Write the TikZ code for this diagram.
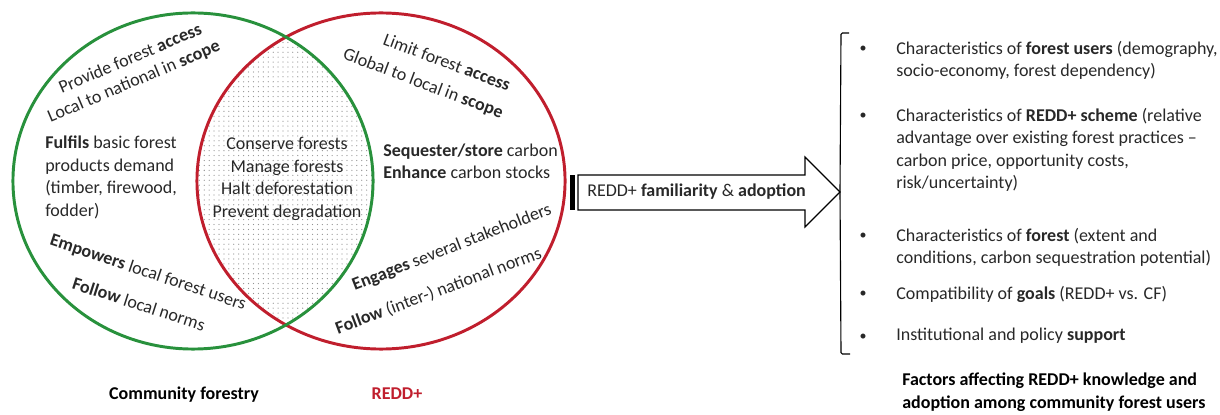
\documentclass[tikz,border=0pt]{standalone}
\usepackage{fontspec}
\setmainfont{Carlito}
\usetikzlibrary{patterns}

\definecolor{cfgreen}{RGB}{40,145,60}
\definecolor{reddred}{RGB}{192,30,45}
\definecolor{txtgray}{RGB}{40,40,40}

\pgfdeclarepatternformonly{lensdots}{\pgfpoint{-1pt}{-1pt}}{\pgfpoint{4.5pt}{4.5pt}}{\pgfpoint{3.5pt}{3.5pt}}{%
  \pgfpathcircle{\pgfpoint{1.75pt}{1.75pt}}{0.45pt}%
  \pgfusepath{fill}}

\tikzset{
  venntxt/.style={inner sep=0pt, text=txtgray},
  blocktxt/.style={inner sep=0pt, text=txtgray, anchor=north west, align=left},
  factor/.style={inner sep=0pt, text=txtgray, anchor=north west, align=left},
  dotitem/.style={inner sep=0pt, text=txtgray, anchor=base, font=\fontsize{10}{12}\selectfont},
  caption/.style={inner sep=0pt, font=\fontsize{12.8}{16}\selectfont\bfseries},
}

\begin{document}
\begin{tikzpicture}[x=0.025cm, y=0.025cm, font=\fontsize{12.8}{16}\selectfont]
	\useasboundingbox (0,0) rectangle (1220,414);

	% overlap of the two sets
	\begin{scope}
		\clip (193,233) ellipse [x radius=4.5cm, y radius=4.2cm];
		\fill[pattern=lensdots, pattern color=gray!85] (381,233) ellipse [x radius=4.6cm, y radius=4.2cm];
	\end{scope}
	\draw[reddred, line width=2.1pt] (381,233) ellipse [x radius=4.6cm, y radius=4.2cm];
	\draw[cfgreen, line width=2.1pt] (193,233) ellipse [x radius=4.5cm, y radius=4.2cm];

	% community forestry side
	\node (cfaccess) [venntxt, rotate=23] at (130,356) {Provide forest \textbf{access}};
	\node (cfscope) [venntxt, rotate=23] at (134,332) {Local to national in \textbf{scope}};
	\node (cfdemand) [blocktxt] at (45,278) {\textbf{Fulfils} basic forest\\products demand\\(timber, firewood,\\fodder)};
	\node (cfusers) [venntxt, rotate=-18.5] at (148,141) {\textbf{Empowers} local forest users};
	\node (cfnorms) [venntxt, rotate=-18] at (139,110) {\textbf{Follow} local norms};

	% shared goals
	\node (shared) [venntxt, align=center] at (287,235) {Conserve forests\\Manage forests\\Halt deforestation\\Prevent degradation};

	% REDD+ side
	\node (raccess) [venntxt, rotate=-20.7] at (447,352) {Limit forest \textbf{access}};
	\node (rscope) [venntxt, rotate=-20.6] at (423,330) {Global to local in \textbf{scope}};
	\node (rcarbon) [blocktxt] at (383,270.5) {\textbf{Sequester/store} carbon\\\textbf{Enhance} carbon stocks};
	\node (rstake) [venntxt, rotate=21.3] at (452,166) {\textbf{Engages} several stakeholders};
	\node (rnorms) [venntxt, rotate=20.5] at (438.5,123) {\textbf{Follow} (inter-) national norms};

	\node (cflabel) [caption, anchor=base] at (184,15) {Community forestry};
	\node (rlabel) [caption, anchor=base, text=reddred] at (397,15) {REDD+};

	% arrow towards the factors
	\fill (570,204) rectangle (575,239);
	\draw[thick] (578,239) -- (805,239) -- (805,257) -- (840,222) -- (805,187) -- (805,204) -- (578,204) -- cycle;
	\node (adopt) [venntxt, anchor=base west] at (587,217.5) {REDD+ \textbf{familiarity} \& \textbf{adoption}};
	\coordinate (tip) at (840,222);

	% bracket
	\draw[thick, rounded corners=1pt] (849,381) -- (841,381) -- (tip) -- (841,60) -- (850,60);

	% factors
	\node (b1) [dotitem] at (863,361) {•};
	\node (f1) [factor] at (896,373) {Characteristics of \textbf{forest users} (demography,\\socio-economy, forest dependency)};
	\node (b2) [dotitem] at (863,294) {•};
	\node (f2) [factor] at (896,306) {Characteristics of \textbf{REDD+ scheme} (relative\\advantage over existing forest practices –\\carbon price, opportunity costs,\\risk/uncertainty)};
	\node (b3) [dotitem] at (863,174) {•};
	\node (f3) [factor] at (896,186) {Characteristics of \textbf{forest} (extent and\\conditions, carbon sequestration potential)};
	\node (b4) [dotitem] at (863,116) {•};
	\node (f4) [factor] at (896,128) {Compatibility of \textbf{goals} (REDD+ vs. CF)};
	\node (b5) [dotitem] at (863,74) {•};
	\node (f5) [factor] at (896,86) {Institutional and policy \textbf{support}};

	\node (flabel) [caption, anchor=north west, align=left] at (902,41) {Factors affecting REDD+ knowledge and\\adoption among community forest users};
\end{tikzpicture}
\end{document}
